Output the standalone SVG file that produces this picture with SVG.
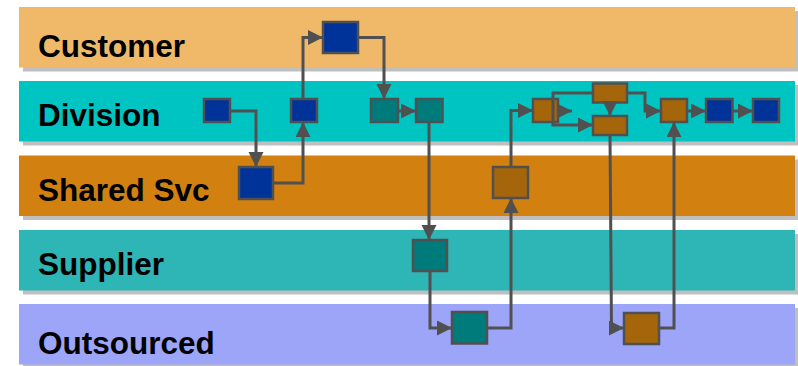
<svg xmlns="http://www.w3.org/2000/svg" width="798" height="366" viewBox="0 0 798 366">
<style>
.shadow{fill:#BFBFBF}
.lbl{font-family:"Liberation Sans",Arial,sans-serif;font-weight:bold;font-size:31.5px;fill:#000}
.node rect{stroke:#505050;stroke-width:2.5}
.blue{fill:#003399}
.teal{fill:#007B7B}
.brown{fill:#A5660B}
.conn path{fill:none;stroke:#505050;stroke-width:3;marker-end:url(#arr)}
</style>
<defs>
<marker id="arr" markerUnits="userSpaceOnUse" markerWidth="16" markerHeight="16" refX="15" refY="7.5" orient="auto" viewBox="0 0 16 16">
<path d="M0,0 L15,7.5 L0,15 Z" fill="#505050"/>
</marker>
</defs>
<rect width="798" height="366" fill="#FFFFFF"/>
<g id="lane-customer">
<rect class="shadow" x="23" y="11" width="776" height="60.5"/>
<rect x="19" y="7" width="776" height="60.5" fill="#F0B96A"/>
<text class="lbl" x="38" y="57">Customer</text>
</g>
<g id="lane-division">
<rect class="shadow" x="23" y="85" width="776" height="60.5"/>
<rect x="19" y="81" width="776" height="60.5" fill="#00C4C2"/>
<text class="lbl" x="38" y="126">Division</text>
</g>
<g id="lane-shared">
<rect class="shadow" x="23" y="159.5" width="776" height="60.5"/>
<rect x="19" y="155.5" width="776" height="60.5" fill="#D2800F"/>
<text class="lbl" x="38" y="201">Shared Svc</text>
</g>
<g id="lane-supplier">
<rect class="shadow" x="23" y="234" width="776" height="60.5"/>
<rect x="19" y="230" width="776" height="60.5" fill="#2EB5B5"/>
<text class="lbl" x="38" y="275">Supplier</text>
</g>
<g id="lane-outsourced">
<rect class="shadow" x="23" y="308" width="776" height="60.5"/>
<rect x="19" y="304" width="776" height="60.5" fill="#9CA5F8"/>
<text class="lbl" x="38" y="354">Outsourced</text>
</g>
<g id="n1" class="node"><rect class="blue" x="204" y="99" width="26" height="23"/></g>
<g id="n2" class="node"><rect class="blue" x="239" y="167" width="34" height="32"/></g>
<g id="n3" class="node"><rect class="blue" x="291" y="99" width="26" height="23"/></g>
<g id="n4" class="node"><rect class="blue" x="323" y="22" width="35" height="31"/></g>
<g id="n5" class="node"><rect class="teal" x="371" y="99" width="27" height="23"/></g>
<g id="n6" class="node"><rect class="teal" x="416" y="99" width="26.5" height="23"/></g>
<g id="n7" class="node"><rect class="teal" x="413" y="240" width="34" height="31"/></g>
<g id="n8" class="node"><rect class="teal" x="452" y="312" width="35" height="31.5"/></g>
<g id="n9" class="node"><rect class="brown" x="493" y="167" width="35" height="31"/></g>
<g id="n10" class="node"><rect class="brown" x="533" y="99" width="25" height="23"/></g>
<g id="n11" class="node"><rect class="brown" x="593" y="83.5" width="34" height="19"/></g>
<g id="n12" class="node"><rect class="brown" x="593" y="116" width="34" height="19"/></g>
<g id="n13" class="node"><rect class="brown" x="624" y="313" width="35" height="31"/></g>
<g id="n14" class="node"><rect class="brown" x="661" y="99" width="26" height="23"/></g>
<g id="n15" class="node"><rect class="blue" x="706" y="99" width="26.5" height="23"/></g>
<g id="n16" class="node"><rect class="blue" x="753" y="99" width="26" height="23"/></g>
<g id="connectors" class="conn">
<path d="M230,111 H256 V167"/>
<path d="M273,183 H303 V122"/>
<path d="M303,99 V37.5 H323"/>
<path d="M358,37.5 H384 V99"/>
<path d="M398,111 H416"/>
<path d="M429,122 V240"/>
<path d="M430,271 V328 H452"/>
<path d="M487,328 H511 V198"/>
<path d="M511,167 V110.5 H533"/>
<path d="M557,111 H572"/>
<path d="M593,93 H553 V125 H593"/>
<path d="M610,102 V116"/>
<path d="M627,93 H645 V111 H661"/>
<path d="M687,111 H706"/>
<path d="M732,111 H753"/>
<path d="M610,135 L611.5,328 H624"/>
<path d="M659,328 H674 V122"/>
</g>
</svg>
